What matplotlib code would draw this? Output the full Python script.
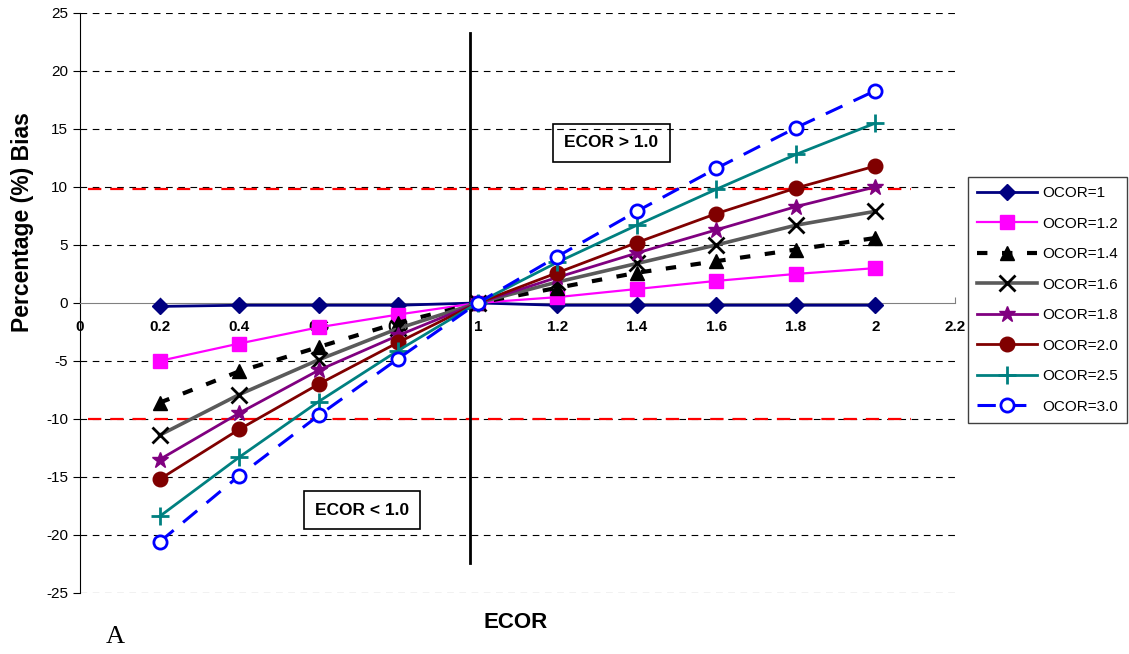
import matplotlib
matplotlib.use("Agg")
import matplotlib.pyplot as plt

plt.rcParams['font.family'] = ['Liberation Sans', 'DejaVu Sans']

ecor = [0.2, 0.4, 0.6, 0.8, 1.0, 1.2, 1.4, 1.6, 1.8, 2.0]
ocor_1 = [-0.3, -0.2, -0.2, -0.2, 0.0, -0.2, -0.2, -0.2, -0.2, -0.2]
ocor_12 = [-5.0, -3.5, -2.1, -1.0, 0.0, 0.5, 1.2, 1.9, 2.5, 3.0]
ocor_14 = [-8.6, -5.9, -3.8, -1.7, 0.0, 1.3, 2.6, 3.6, 4.6, 5.6]
ocor_16 = [-11.4, -7.9, -4.9, -2.2, 0.0, 1.8, 3.4, 5.0, 6.7, 7.9]
ocor_18 = [-13.5, -9.5, -5.8, -2.8, 0.0, 2.2, 4.3, 6.3, 8.3, 10.0]
ocor_20 = [-15.2, -10.9, -7.0, -3.4, 0.0, 2.6, 5.2, 7.7, 9.9, 11.8]
ocor_25 = [-18.4, -13.3, -8.5, -4.1, 0.0, 3.5, 6.7, 9.8, 12.8, 15.5]
ocor_30 = [-20.6, -14.9, -9.7, -4.8, 0.0, 4.0, 7.9, 11.6, 15.1, 18.3]

x_ticks = [0, 0.2, 0.4, 0.6, 0.8, 1.0, 1.2, 1.4, 1.6, 1.8, 2.0, 2.2]
x_tick_labels = ['0', '0.2', '0.4', '0.6', '0.8', '1', '1.2', '1.4', '1.6', '1.8', '2', '2.2']
y_ticks = [-25, -20, -15, -10, -5, 0, 5, 10, 15, 20, 25]

fig = plt.figure(figsize=(11.29, 6.54), dpi=100)
ax = fig.add_axes([0.0709, 0.0933, 0.775, 0.887])

ax.set_xlim(0, 2.2)
ax.set_ylim(-25, 25)

for yv in y_ticks:
    if yv != 0:
        ax.axhline(yv, color='black', lw=0.8, ls=(0, (6, 5)), zorder=0)

# red limit lines
ax.plot([0.02, 2.09], [9.8, 9.8], color='red', lw=1.6, ls=(0, (6, 4)), zorder=1)
ax.plot([0.02, 2.09], [-10, -10], color='red', lw=1.6, ls=(0, (6, 4)), zorder=1)

# vertical line
ax.plot([0.98, 0.98], [-22.4, 23.3], color='black', lw=2, zorder=2)

series = [
    ('OCOR=1', ocor_1, dict(color='#000080', lw=2, marker='D', ms=8, mfc='#000080', mec='#000080', ls='-')),
    ('OCOR=1.2', ocor_12, dict(color='#ff00ff', lw=1.6, marker='s', ms=10, mfc='#ff00ff', mec='#ff00ff', ls='-')),
    ('OCOR=1.4', ocor_14, dict(color='black', lw=3, marker='^', ms=10, mfc='black', mec='black', ls=(0, (2.5, 3.5)))),
    ('OCOR=1.6', ocor_16, dict(color='#5a5a5a', lw=2.6, marker='x', ms=12, mfc='black', mec='black', mew=2, ls='-')),
    ('OCOR=1.8', ocor_18, dict(color='#800080', lw=2, marker='*', ms=12, mfc='#800080', mec='#800080', ls='-')),
    ('OCOR=2.0', ocor_20, dict(color='#800000', lw=2, marker='o', ms=10.5, mfc='#800000', mec='#800000', ls='-')),
    ('OCOR=2.5', ocor_25, dict(color='#008080', lw=2, marker='+', ms=13, mfc='#008080', mec='#008080', mew=2, ls='-')),
    ('OCOR=3.0', ocor_30, dict(color='#0000ff', lw=2.2, marker='o', ms=9.5, mfc='white', mec='#0000ff', mew=2, ls=(0, (6, 4)))),
]
for label, vals, kw in series:
    ax.plot(ecor, vals, label=label, zorder=3, **kw)

# spines
ax.spines['top'].set_visible(False)
ax.spines['right'].set_visible(False)
ax.spines['bottom'].set_position(('data', 0))
ax.spines['bottom'].set_color('#808080')
ax.spines['left'].set_color('black')

ax.set_xticks(x_ticks)
ax.set_xticklabels(x_tick_labels, fontweight='bold', fontsize=11)
ax.tick_params(axis='x', direction='in', length=4, colors='#808080', labelcolor='black', pad=12)
ax.set_yticks(y_ticks)
ax.set_yticklabels([str(v) for v in y_ticks], fontsize=11)
ax.tick_params(axis='y', direction='out', length=5)

fig.text(0.02, 0.661, 'Percentage (%) Bias', rotation=90, ha='center', va='center',
         fontsize=16.5, fontweight='bold')
fig.text(0.457, 0.048, 'ECOR', ha='center', va='center', fontsize=16, fontweight='bold')
fig.text(0.102, 0.026, 'A', ha='center', va='center', fontsize=19, family='Liberation Serif')

ax.text(1.336, 13.8, 'ECOR > 1.0', ha='center', va='center', fontsize=12.5, fontweight='bold',
        bbox=dict(boxstyle='square,pad=0.65', fc='none', ec='black', lw=1.2), zorder=5)
ax.text(0.709, -17.85, 'ECOR < 1.0', ha='center', va='center', fontsize=12.5, fontweight='bold',
        bbox=dict(boxstyle='square,pad=0.65', fc='white', ec='black', lw=1.2), zorder=5)

leg = fig.legend(loc='upper left', bbox_to_anchor=(0.8574, 0.7294), borderaxespad=0, fontsize=11,
                 frameon=True, fancybox=False, edgecolor='#404040', labelspacing=1.08,
                 handlelength=3.9, borderpad=0.6, handletextpad=0.35, framealpha=1)
leg.get_frame().set_linewidth(1)

fig.savefig('out.png', dpi=100)
